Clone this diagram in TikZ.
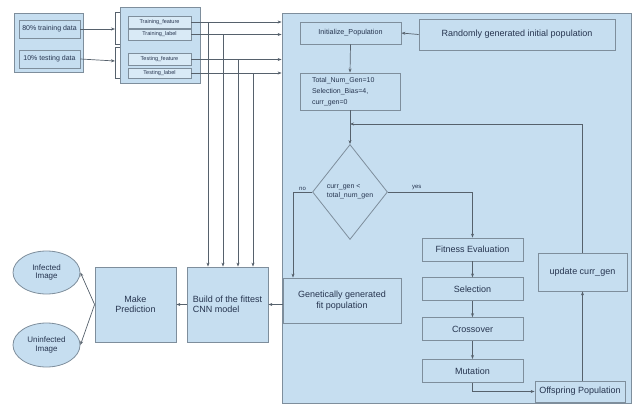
\documentclass[tikz,border=0pt]{standalone}
\usepackage{fontspec}
\setmainfont{Liberation Sans}
\usetikzlibrary{arrows.meta, positioning, shapes.geometric}
\definecolor{panelblue}{HTML}{C6DEF0}
\definecolor{innerblue}{HTML}{D9EAF6}
\definecolor{boxedge}{HTML}{7E8E9C}
\definecolor{wiregray}{HTML}{56616C}
\definecolor{textnavy}{HTML}{26344F}
\tikzset{
  box/.style={draw=boxedge, fill=panelblue, line width=0.8pt, text=textnavy,
    inner sep=2pt, font=\fontsize{9}{10.5}\selectfont},
  groupbox/.style={box, fill=panelblue},
  smallbox/.style={box, fill=innerblue, font=\fontsize{5.5}{6.5}\selectfont},
  databox/.style={box, font=\fontsize{7}{8}\selectfont},
  imgnode/.style={box, ellipse, align=center, font=\fontsize{8}{9.5}\selectfont},
  wire/.style={draw=wiregray, line width=0.7pt},
  arr/.style={wire, -{Stealth[length=4pt,width=3pt]}},
  lbl/.style={text=textnavy, font=\fontsize{6}{7}\selectfont, inner sep=1.5pt}
}

\begin{document}
\begin{tikzpicture}[x=1pt, y=-1pt]
\useasboundingbox (0,0) rectangle (637,407);

% GA panel
\node[groupbox, minimum width=349, minimum height=390] (gapanel) at (456.5,208) {};

% data split
\node[groupbox, minimum width=69, minimum height=59] (datagrp) at (48.5,42.5) {};
\node[databox, minimum width=61, minimum height=18] (traindata) at (49.5,29) {80\% training data};
\node[databox, minimum width=61, minimum height=18] (testdata) at (49.5,59) {10\% testing data};

% features and labels
\node[groupbox, minimum width=80, minimum height=76] (featgrp) at (160,45) {};
\node[smallbox, minimum width=63, minimum height=12] (trainfeat) at (159.5,22) {Training\_feature};
\node[smallbox, minimum width=63, minimum height=11] (trainlbl) at (159.5,34.5) {Training\_label};
\node[smallbox, minimum width=63, minimum height=12] (testfeat) at (159.5,59.5) {Testing\_feature};
\node[smallbox, minimum width=63, minimum height=10] (testlbl) at (159.5,73) {Testing\_label};

% brackets between the two groups
\coordinate (brtrain) at (115,29);
\coordinate (brtest) at (115,61);
\draw[wire] (featgrp.west |- 0,12) -- (115,12) -- (115,44) -- (featgrp.west |- 0,44);
\draw[wire] (featgrp.west |- 0,47) -- (115,47) -- (115,78) -- (featgrp.west |- 0,78);
\draw[arr] (traindata.east) -- (brtrain);
\draw[arr] (testdata.east) -- (brtest);

% GA flow
\node[box, font=\fontsize{7.2}{8.5}\selectfont, minimum width=101, minimum height=22] (initpop) at (350.5,33) {Initialize\_Population};
\node[box, minimum width=196, minimum height=31] (randinit) at (517,34.5) {Randomly generated initial population};
\node[box, font=\fontsize{7}{11}\selectfont, align=left, text width=76, inner xsep=12, minimum height=37] (totals) at (350,91.5)
  {Total\_Num\_Gen=10\\Selection\_Bias=4,\\curr\_gen=0};
\node[box, diamond, font=\fontsize{7}{9}\selectfont, align=left, inner sep=0pt, aspect=0.8,
  minimum width=75, minimum height=95] (cond) at (350,192) {curr\_gen <\\total\_num\_gen};
\node[box, align=center, minimum width=118, minimum height=45] (gengen) at (342,300.5)
  {Genetically generated\\fit population};
\node[box, minimum width=101, minimum height=23] (fitness) at (472.5,249.5) {Fitness Evaluation};
\node[box, minimum width=101, minimum height=23, below=16pt of fitness] (selection) {Selection};
\node[box, minimum width=101, minimum height=23, below=16pt of selection] (crossover) {Crossover};
\node[box, minimum width=101, minimum height=23, below=18pt of crossover] (mutation) {Mutation};
\node[box, minimum width=90, minimum height=21] (offspring) at (580,391.5) {Offspring Population};
\node[box, minimum width=89, minimum height=38] (updgen) at (582.5,272) {update curr\_gen};

% model and prediction
\node[box, align=left, minimum width=81, minimum height=75] (buildcnn) at (227.5,304.5)
  {Build of the fittest\\CNN model};
\node[box, align=center, minimum width=81, minimum height=75] (predict) at (135.5,304.5)
  {Make\\Prediction};
\node[imgnode, minimum width=67, minimum height=43] (infected) at (46.5,272.5) {Infected\\[-1pt]Image};
\node[imgnode, minimum width=67, minimum height=44] (uninfected) at (46.5,345) {Uninfected\\[-1pt]Image};

% data into the GA panel
\draw[arr] (trainfeat.east) -- (trainfeat.east -| gapanel.west);
\draw[arr] (trainlbl.east) -- (trainlbl.east -| gapanel.west);
\draw[arr] (testfeat.east) -- (testfeat.east -| gapanel.west);
\draw[arr] (testlbl.east) -- (testlbl.east -| gapanel.west);

% data down to the CNN builder
\coordinate (tap1) at (208,22);
\coordinate (tap2) at (223,34.5);
\coordinate (tap3) at (238,59.5);
\coordinate (tap4) at (253,73);
\foreach \t in {tap1,tap2,tap3,tap4}
  \draw[arr] (\t) -- (\t |- buildcnn.north);

% GA connectors
\coordinate (loopjoin) at (350,124);
\coordinate (noturn) at (293,192);
\draw[arr] (randinit.west) -- (initpop.east);
\draw[arr] (initpop.south) -- (totals.north);
\draw[arr] (totals.south) -- (cond.north);
\draw[arr] (updgen.north) |- (loopjoin);
\draw[wire] (cond.west) -- node[lbl, above] {no} (noturn);
\draw[arr] (noturn) -- (noturn |- gengen.north);
\draw[arr] (cond.east) -| node[lbl, above, pos=0.17] {yes} (fitness.north);
\draw[arr] (fitness) -- (selection);
\draw[arr] (selection) -- (crossover);
\draw[arr] (crossover) -- (mutation);
\draw[arr] (mutation.south) |- (offspring.west);
\draw[arr] (updgen.south |- offspring.north) -- (updgen.south);

% output side
\draw[arr] (buildcnn.east -| gengen.west) -- (buildcnn.east);
\draw[arr] (buildcnn.west) -- (predict.east);
\draw[arr] (predict.west) -- (infected.east);
\draw[arr] (predict.west) -- (uninfected.east);

\end{tikzpicture}
\end{document}
